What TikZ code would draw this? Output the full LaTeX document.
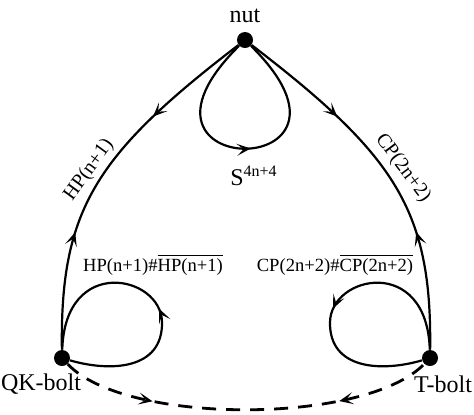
\documentclass[tikz,border=0pt]{standalone}
\usepackage{fontspec}
\setmainfont{Liberation Serif}
\usetikzlibrary{arrows.meta,decorations.markings,positioning}
\tikzset{%
    vtx/.style={inner sep=0pt,circle,fill=black,minimum size=8pt},
    hd/.tip={Stealth[length=7pt,width=6pt,inset=3.5pt]}
}
\begin{document}
\begin{tikzpicture}[x=0.5pt,y=-0.5pt,
        edge/.style={line width=1.1pt},
        dedge/.style={line width=1.4pt,dash pattern=on 7pt off 5pt},
        onetip/.style={postaction={decorate},decoration={markings,
            mark=at position #1 with {\arrow{hd}}}},
        twotips/.style 2 args={postaction={decorate},decoration={markings,
            mark=at position #1 with {\arrow{hd}},
            mark=at position #2 with {\arrowreversed{hd}}}},
        big/.style={font=\fontsize{12}{14}\selectfont},
        arclbl/.style={font=\fontsize{10}{12}\selectfont},
        loplbl/.style={font=\fontsize{9.3}{11}\selectfont}
        ]
        \useasboundingbox (0,0) rectangle (474,414);

        \node[vtx] (nut) at (245,40){};
        \node[vtx] (qk) at (62,358){};
        \node[vtx] (tb) at (430,358){};

        \node[big] (nutl) at (245,16) {nut};
        \node[big] (qkl) at (41,384) {QK-bolt};
        \node[big] (tbl) at (443,384) {T-bolt};
        \node[big, anchor=base] (sl) at (254,185) {S\textsuperscript{4n+4}};
        \node[arclbl, rotate=54] (hpl) at (89,170) {HP(n+1)};
        \node[arclbl, rotate=-53] (cpl) at (403,168) {CP(2n+2)};
        \node[loplbl] (hpsum) at (153,265) {HP(n+1)\#$\overline{\mbox{HP(n+1)}}$};
        \node[loplbl] (cpsum) at (335,265) {CP(2n+2)\#$\overline{\mbox{CP(2n+2)}}$};

        \draw[edge, twotips={0.3}{0.68}] (nut) .. controls (95,155) and (60,210) .. (qk);
        \draw[edge, twotips={0.3}{0.68}] (nut) .. controls (395,155) and (432,210) .. (tb);
        \draw[edge, onetip=0.52] (nut) .. controls (100,183) and (390,183) .. (nut);
        \draw[edge, onetip=0.47] (qk) .. controls (110,372) and (163,370) .. (162,322)
            .. controls (161,275) and (65,255) .. (qk);
        \draw[edge, onetip=0.53] (tb) .. controls (427,255) and (331,275) .. (330,322)
            .. controls (329,370) and (382,372) .. (tb);
        \draw[dedge, twotips={0.25}{0.75}] (qk) .. controls (125,425) and (365,425) .. (tb);
    \end{tikzpicture}
\end{document}
